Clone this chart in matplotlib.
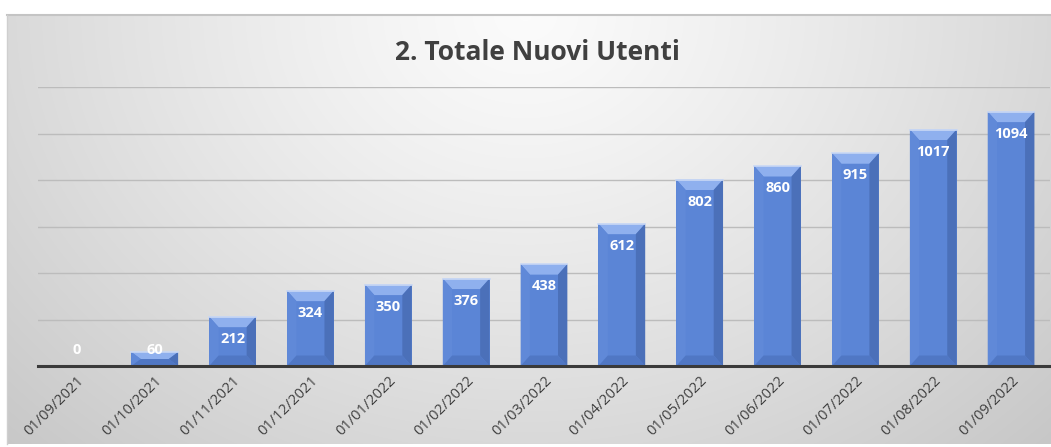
import numpy as np
import matplotlib.pyplot as plt
from matplotlib.patches import Polygon

# data
dates = ["01/09/2021", "01/10/2021", "01/11/2021", "01/12/2021", "01/01/2022",
         "01/02/2022", "01/03/2022", "01/04/2022", "01/05/2022", "01/06/2022",
         "01/07/2022", "01/08/2022", "01/09/2022"]
users = [0, 60, 212, 324, 350, 376, 438, 612, 802, 860, 915, 1017, 1094]
title = "2. Totale Nuovi Utenti"

plt.rcParams['font.family'] = ['Open Sans', 'DejaVu Sans']

W, H = 1051, 447
fig = plt.figure(figsize=(W / 100, H / 100), dpi=100)

# chart area (white strip left/top/bottom), radial grey gradient inside
cx0, cy0, cx1, cy1 = 7, 15, 1051, 444
bg = fig.add_axes([cx0 / W, 1 - cy1 / H, (cx1 - cx0) / W, (cy1 - cy0) / H], zorder=-10)
yy, xx = np.mgrid[cy0:cy1, cx0:cx1]
d = np.sqrt(((xx - 525) / 525.0) ** 2 + ((yy - 15) / 430.0) ** 2)
shade = np.clip(0.985 - 0.135 * d ** 1.2, 0.76, 1.0)
bg.imshow(np.dstack([shade, shade, shade]), aspect="auto", extent=[0, 1, 0, 1], origin="upper")
bg.set_xlim(0, 1)
bg.set_ylim(0, 1)
bg.axis("off")
bg.plot([0, 1], [1, 1], color="#c4c4c4", lw=1.5, transform=bg.transAxes, clip_on=False)
bg.plot([0, 0], [0, 1], color="#cfcfcf", lw=1, transform=bg.transAxes, clip_on=False)

ax = fig.add_axes([38 / W, 81 / H, 1012 / W, 279 / H])
ax.patch.set_alpha(0)

x = np.arange(len(dates))
bars = ax.bar(x, users, width=0.6, color="#5b85d6", zorder=3)

ax.set_xlim(-0.5, len(dates) - 0.5)
ax.set_ylim(0, 1200)

# bevel facets on each bar
bx = 0.12
by = 45
for rect, v in zip(bars, users):
    if v <= 0:
        continue
    x0 = rect.get_x()
    x1 = x0 + rect.get_width()
    h = rect.get_height()
    b = min(by, h / 2)
    top = Polygon([(x0, h), (x1, h), (x1 - bx, h - b), (x0 + bx, h - b)],
                  closed=True, fc="#8fb0ee", ec="none", zorder=4)
    right = Polygon([(x1, h), (x1, 0), (x1 - bx, b), (x1 - bx, h - b)],
                    closed=True, fc="#4b70b9", ec="none", zorder=4)
    left = Polygon([(x0, h), (x0, 0), (x0 + bx, b), (x0 + bx, h - b)],
                   closed=True, fc="#6089d8", ec="none", zorder=4)
    bottom = Polygon([(x0, 0), (x1, 0), (x1 - bx, b), (x0 + bx, b)],
                     closed=True, fc="#5077c4", ec="none", zorder=4)
    for p in (top, right, left, bottom):
        ax.add_patch(p)
    ax.plot([x0, x1], [h, h], color="#c9d8f5", lw=1.2, zorder=5)

for xi, v in zip(x, users):
    ax.text(xi, max(v - 95, 70), str(v), ha="center", va="center",
            color="white", fontsize=10.5, fontweight="bold", zorder=6)

ax.set_yticks(np.arange(200, 1201, 200))
ax.yaxis.grid(True, color="#bcbcbc", lw=1)
ax.set_axisbelow(True)
ax.tick_params(axis="y", length=0, labelleft=False)
ax.tick_params(axis="x", length=0, pad=5)
ax.set_xticks(x)
ax.set_xticklabels(dates, rotation=45, ha="right", rotation_mode="anchor",
                   fontsize=10.5, color="#404040")
for s in ("top", "right", "left"):
    ax.spines[s].set_visible(False)
ax.spines["bottom"].set_color("#3a3a3a")
ax.spines["bottom"].set_linewidth(2.2)
ax.spines["bottom"].set_zorder(7)

fig.text(537 / W, 1 - 52 / H, title, ha="center", va="center",
         fontsize=19, fontweight="bold", color="#404040")

fig.savefig("out.png", dpi=100)
